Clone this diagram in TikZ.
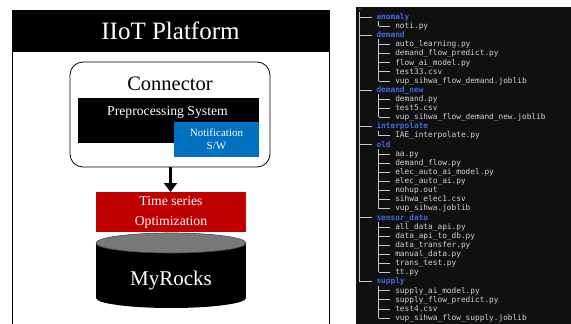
\documentclass[tikz,border=0pt]{standalone}
\usepackage{fontspec}
\setmainfont{Liberation Serif}
\newfontfamily\monof{DejaVu Sans Mono}
\usetikzlibrary{arrows.meta}
\definecolor{termbg}{RGB}{16,16,16}
\definecolor{dirblue}{RGB}{62,108,224}
\definecolor{filegray}{RGB}{212,212,212}
\definecolor{treegray}{RGB}{200,200,200}
\definecolor{notiblue}{RGB}{0,112,192}
\definecolor{tsred}{RGB}{192,0,0}
\definecolor{dbtop}{RGB}{120,120,120}
\tikzset{
  whitetxt/.style={text=white, inner sep=0pt, align=center},
  dirtxt/.style={anchor=base west, inner sep=0pt, text=dirblue, font=\monof\bfseries\fontsize{7.8}{8}\selectfont},
  filetxt/.style={anchor=base west, inner sep=0pt, text=filegray, font=\monof\fontsize{7.8}{8}\selectfont},
  treeline/.style={draw=treegray, line width=0.7pt},
}
\newcommand{\rowy}[1]{8+9.12*#1}
\begin{document}
\begin{tikzpicture}[x=1pt,y=-1pt]
\useasboundingbox (0,0) rectangle (571,324);
\fill[white] (0,0) rectangle (571,324);

% ---------- left panel ----------
\fill[black] (12,10) rectangle (329,52);
\draw[black, line width=1pt] (12,10) -- (12,324) (329,10) -- (329,324);
\node[whitetxt, font=\fontsize{25}{28}\selectfont] (title) at (170.5,31) {IIoT Platform};

\node[draw=black, line width=0.8pt, fill=white, rounded corners=13pt,
      minimum width=200pt, minimum height=105pt, inner sep=0pt] (conn) at (170,114.5) {};
\node[font=\fontsize{20.5}{22}\selectfont, inner sep=0pt] (connlbl) at (170,84) {Connector};
\node[fill=black, minimum width=181pt, minimum height=45pt, inner sep=0pt] (pre) at (168.5,120) {};
\node[whitetxt, font=\fontsize{13.7}{15}\selectfont] (prelbl) at (167.5,112) {Preprocessing System};
\node[fill=notiblue, minimum width=85pt, minimum height=35pt, inner sep=0pt,
      whitetxt, font=\fontsize{11}{13}\selectfont] (noti) at (216.5,139.5) {Notification\\S/W};

\node[fill=tsred, minimum width=150pt, minimum height=40pt, inner sep=0pt,
      whitetxt, font=\fontsize{13.7}{20}\selectfont] (ts) at (171,212) {Time series\\Optimization};
\draw[black, line width=3pt, -{Triangle[width=13pt,length=9pt]}] (170.5,167) -- (170.5,192);

% cylinder
\fill[black] (96,243) rectangle (246,298);
\fill[black] (171,298) ellipse [x radius=75, y radius=10];
\filldraw[fill=dbtop, draw=black!70, line width=0.6pt] (171,243) ellipse [x radius=75, y radius=10];
\node[whitetxt, font=\fontsize{21}{24}\selectfont] (db) at (171,280) {MyRocks};

% ---------- right panel ----------
\fill[termbg] (356,7) rectangle (571,324);

\node[dirtxt] (t0) at (357.5,{\rowy{0}+2.3}) {.};
\foreach \i/\k/\t in {
  1/d/anomaly, 2/f/noti.py,
  3/d/demand, 4/f/auto\_learning.py, 5/f/demand\_flow\_predict.py, 6/f/flow\_ai\_model.py,
  7/f/test33.csv, 8/f/vup\_sihwa\_flow\_demand.joblib,
  9/d/demand\_new, 10/f/demand.py, 11/f/test5.csv, 12/f/vup\_sihwa\_flow\_demand\_new.joblib,
  13/d/interpolate, 14/f/IAE\_interpolate.py,
  15/d/old, 16/f/aa.py, 17/f/demand\_flow.py, 18/f/elec\_auto\_ai\_model.py, 19/f/elec\_auto\_ai.py,
  20/f/nohup.out, 21/f/sihwa\_elec1.csv, 22/f/vup\_sihwa.joblib,
  23/d/sensor\_data, 24/f/all\_data\_api.py, 25/f/data\_api\_to\_db.py, 26/f/data\_transfer.py,
  27/f/manual\_data.py, 28/f/trans\_test.py, 29/f/tt.py,
  30/d/supply, 31/f/supply\_ai\_model.py, 32/f/supply\_flow\_predict.py, 33/f/test4.csv,
  34/f/vup\_sihwa\_flow\_supply.joblib}{
  \pgfmathsetmacro{\yy}{\rowy{\i}}
  \if\k d
    \node[dirtxt] (t\i) at (376.3,\yy+2.3) {\t};
    \draw[treeline] (359.8,\yy) -- (371.6,\yy);
  \else
    \node[filetxt] (t\i) at (395.1,\yy+2.3) {\t};
    \draw[treeline] (378.6,\yy) -- (390.4,\yy);
  \fi
}
% verticals
\draw[treeline] (359.8,{\rowy{0}+4}) -- (359.8,{\rowy{30}});
\foreach \d/\l in {1/2, 3/8, 9/12, 13/14, 15/22, 23/29, 30/34}{
  \draw[treeline] (378.6,{\rowy{\d}+4}) -- (378.6,{\rowy{\l}});
}
\end{tikzpicture}
\end{document}
